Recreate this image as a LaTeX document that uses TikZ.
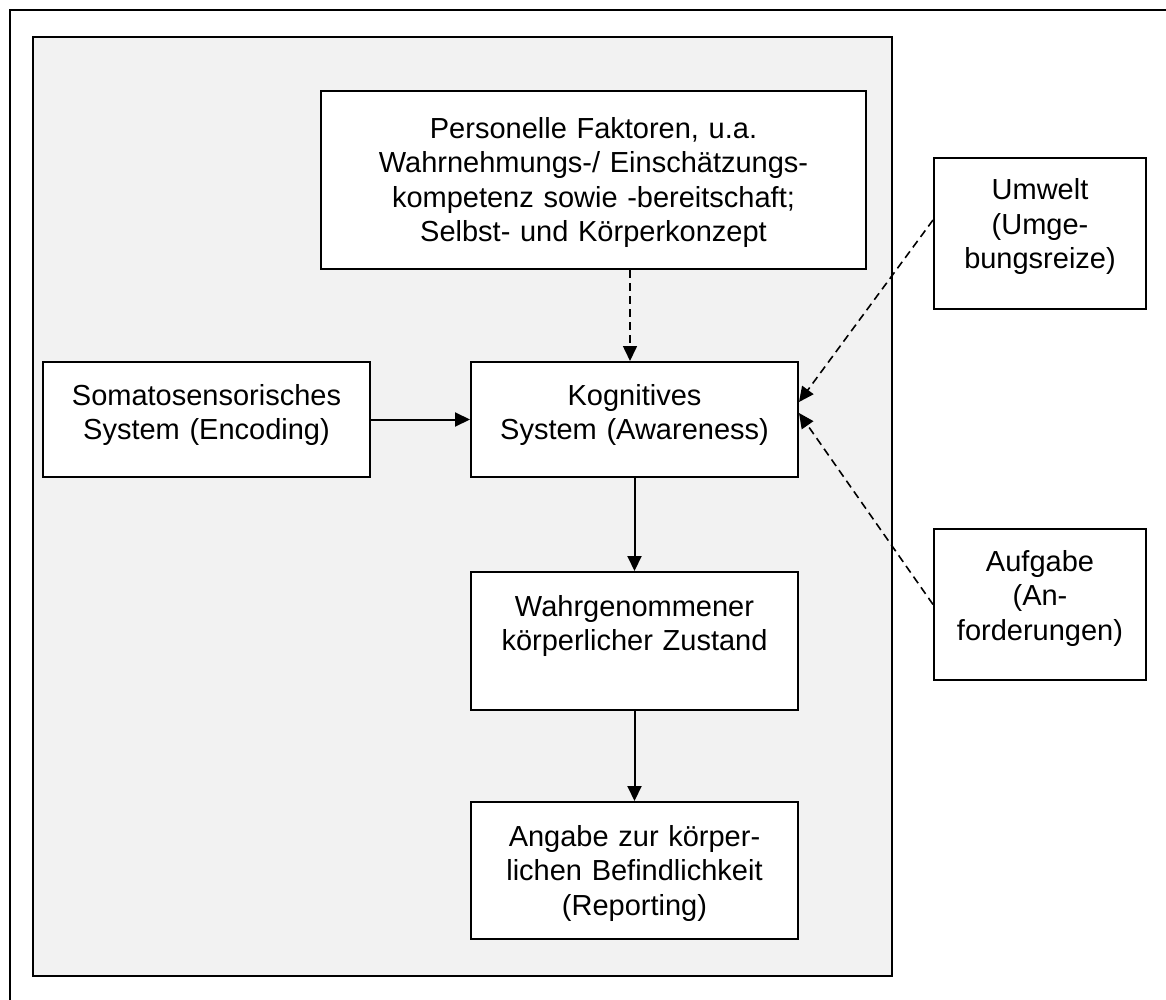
\documentclass[tikz,border=0pt]{standalone}
\usepackage{fontspec}
\setmainfont{Liberation Sans}
\usetikzlibrary{arrows.meta,calc}

\begin{document}
\begin{tikzpicture}[
  x=1pt, y=-1pt,
  font=\fontsize{29pt}{34.5pt}\selectfont,
  >={Triangle[length=15pt,width=14pt]},
  block/.style={draw,line width=2pt,fill=white,inner sep=0pt,align=center},
  flow/.style={->,line width=2pt},
  influence/.style={->,line width=1.6pt,dash pattern=on 8pt off 5pt}
]
\useasboundingbox (0,0) rectangle (1166,1000);
% frame and grey area
\draw[line width=2pt] (10,1000) |- (1166,10);
\draw[line width=2pt,fill=gray!10] (33,37) rectangle (892,976);

\node[block,text width=545pt,text height=47.5pt,text depth=130.5pt] (pers) at (593.5,180)
  {Personelle Faktoren, u.a.\\Wahrnehmungs-/ Einschätzungs-\\kompetenz sowie -bereitschaft;\\Selbst- und Körperkonzept};
\node[block,text width=212pt,text height=42pt,text depth=109pt] (umw) at (1040,233.5)
  {Umwelt\\(Umge-\\bungsreize)};
\node[block,text width=327pt,text height=43pt,text depth=72pt] (soma) at (206.5,419.5)
  {Somatosensorisches\\System (Encoding)};
\node[block,text width=327pt,text height=43pt,text depth=72pt] (kogn) at (634.5,419.5)
  {Kognitives\\System (Awareness)};
\node[block,text width=212pt,text height=42pt,text depth=109pt] (aufg) at (1040,604.5)
  {Aufgabe\\(An-\\forderungen)};
\node[block,text width=327pt,text height=44pt,text depth=94pt] (wahr) at (634.5,641)
  {Wahrgenommener\\körperlicher Zustand};
\node[block,text width=327pt,text height=44pt,text depth=93pt] (angabe) at (634.5,870.5)
  {Angabe zur körper-\\lichen Befindlichkeit\\(Reporting)};

\draw[flow] (soma) -- (kogn);
\draw[flow] (kogn) -- (wahr);
\draw[flow] (wahr) -- (angabe);
\draw[influence] ([xshift=-4.5pt]kogn.north |- pers.south) -- ([xshift=-4.5pt]kogn.north);
\draw[influence] ([yshift=13.5pt]umw.west) -- ([yshift=17.5pt]kogn.east);
\draw[influence] (aufg.west) -- ([yshift=6.5pt]kogn.east);
\end{tikzpicture}
\end{document}
